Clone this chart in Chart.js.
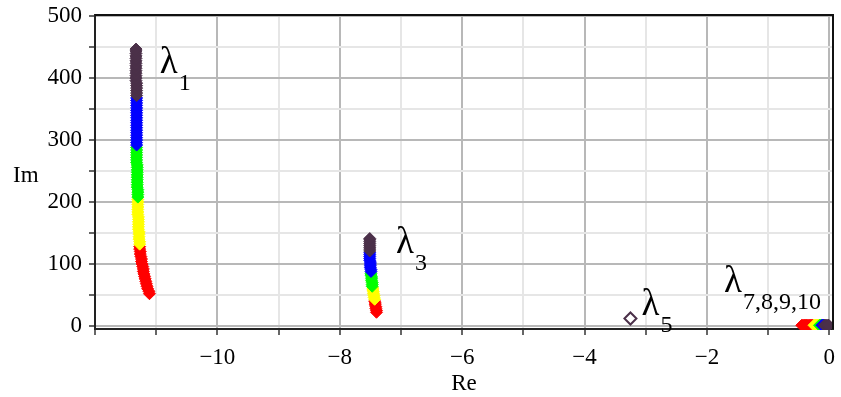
<!DOCTYPE html>
<html lang="en">
<head>
<meta charset="UTF-8">
<title>Eigenvalues Re / Im</title>
<script src="https://cdn.jsdelivr.net/npm/chart.js"></script>
<style>
  html, body { margin: 0; padding: 0; background: #fff; }
</style>
</head>
<body>
<canvas id="grafica" width="841" height="397"></canvas>

<script>
// Re / Im of the eigenvalues, one pair of arrays per colour
// each line: lambda_1 branch, lambda_3 branch, lambda_7..10 branch
const redRe = [-11.11, -11.12, -11.14, -11.15, -11.16, -11.17, -11.18, -11.19, -11.20, -11.21,
               -11.21, -11.22, -11.23, -11.24, -11.24, -11.25, -11.26, -11.26, -11.27, -11.27,
               -7.40, -7.40, -7.41, -7.41, -7.42, -7.42, -7.43,
               -0.45, -0.43, -0.41, -0.39, -0.37, -0.35, -0.33, -0.31, -0.29, -0.27];
const redIm = [52, 56, 60, 64, 68, 72, 76, 80, 84, 88,
               92, 96, 100, 104, 108, 112, 116, 120, 124, 128,
               22, 25, 28, 31, 34, 37, 40,
               1, 1, 1, 1, 1, 1, 1, 1, 1, 1];

const yellowRe = [-11.27, -11.27, -11.28, -11.28, -11.28, -11.28, -11.29, -11.29, -11.29, -11.29,
                  -11.29, -11.29, -11.30, -11.30, -11.30, -11.30, -11.30, -11.30, -11.30,
                  -7.43, -7.44, -7.44, -7.45, -7.45, -7.46, -7.46,
                  -0.25, -0.23, -0.21, -0.19, -0.17];
const yellowIm = [132, 136, 140, 144, 148, 152, 156, 160, 164, 168,
                  172, 176, 180, 184, 188, 192, 196, 200, 204,
                  43, 46, 49, 52, 55, 58, 61,
                  1, 1, 1, 1, 1];

const greenRe = [-11.30, -11.30, -11.30, -11.30, -11.31, -11.31, -11.31, -11.31, -11.31, -11.31,
                 -11.31, -11.31, -11.31, -11.31, -11.32, -11.32, -11.32, -11.32, -11.32, -11.32, -11.32,
                 -7.47, -7.47, -7.47, -7.48, -7.48, -7.48, -7.49, -7.49,
                 -0.16, -0.15, -0.14, -0.13];
const greenIm = [208, 212, 216, 220, 224, 228, 232, 236, 240, 244,
                 248, 252, 256, 260, 264, 268, 272, 276, 280, 284, 288,
                 64, 67, 70, 73, 76, 79, 82, 85,
                 1, 1, 1, 1];

const blueRe = [-11.32, -11.32, -11.32, -11.32, -11.32, -11.32, -11.32, -11.32, -11.32, -11.32,
                -11.32, -11.32, -11.32, -11.32, -11.32, -11.32, -11.32, -11.32, -11.32, -11.32,
                -7.49, -7.49, -7.50, -7.50, -7.50, -7.50, -7.51, -7.51, -7.51, -7.51, -7.51,
                -0.12, -0.11, -0.10, -0.09];
const blueIm = [292, 296, 300, 304, 308, 312, 316, 320, 324, 328,
                332, 336, 340, 344, 348, 352, 356, 360, 364, 368,
                88, 91, 94, 97, 100, 103, 106, 109, 112, 115, 118,
                1, 1, 1, 1];

const purpleRe = [-11.32, -11.32, -11.32, -11.32, -11.32, -11.32, -11.33, -11.33, -11.33, -11.33,
                  -11.33, -11.33, -11.33, -11.33, -11.33, -11.33, -11.33, -11.33, -11.33, -11.33,
                  -7.51, -7.51, -7.51, -7.51, -7.51, -7.51, -7.51, -7.51,
                  -0.08, -0.06, -0.04, -0.02, -0.01];
const purpleIm = [372, 376, 380, 384, 388, 392, 396, 400, 404, 408,
                  412, 416, 420, 424, 428, 432, 436, 440, 444, 447,
                  121, 124, 127, 130, 133, 136, 139, 141,
                  1, 1, 1, 1, 1];

// lambda_5 stays in one place for all colours
const l5Re = [-3.25];
const l5Im = [12];

// eigenvalue labels
const labelSub = ['1', '3', '5', '7,8,9,10'];
const labelRe = [-10.94, -7.08, -3.07, -1.72];
const labelIm = [408, 118, 17, 55];

const toPoints = (re, im) => re.map((v, i) => ({ x: v, y: im[i] }));

function serie(re, im, color, order) {
    return {
        data: toPoints(re, im),
        showLine: false,
        pointStyle: 'rectRot',
        pointRadius: 6,
        pointBorderWidth: 1,
        pointBackgroundColor: color,
        pointBorderColor: color,
        order: order,
        clip: 1
    };
}

const fuente = '"Liberation Serif", "Times New Roman", serif';

const minus = v => (v < 0 ? '\u2212' + Math.abs(v) : String(v));

const decor = {
    id: 'decor',
    afterDraw(chart) {
        const { ctx, chartArea: a, scales: { x, y } } = chart;
        ctx.save();
        // frame, top and right
        ctx.strokeStyle = '#111';
        ctx.lineWidth = 2;
        ctx.beginPath();
        ctx.moveTo(a.left, a.top);
        ctx.lineTo(a.right, a.top);
        ctx.lineTo(a.right, a.bottom);
        ctx.stroke();

        ctx.fillStyle = '#000';
        ctx.textBaseline = 'alphabetic';
        ctx.textAlign = 'left';
        labelRe.forEach((re, i) => {
            const px = x.getPixelForValue(re);
            const py = y.getPixelForValue(labelIm[i]);
            ctx.font = '37px ' + fuente;
            ctx.fillText('\u03bb', px, py);
            const w = ctx.measureText('\u03bb').width;
            ctx.font = '24px ' + fuente;
            ctx.fillText(labelSub[i], px + w + 1, py + 17);
        });

        ctx.font = '23px ' + fuente;
        ctx.fillText('Im', 13, 182);
        ctx.textAlign = 'center';
        ctx.fillText('Re', (a.left + a.right) / 2, 390);
        ctx.restore();
    }
};

new Chart(document.getElementById('grafica'), {
    type: 'scatter',
    data: {
        datasets: [
            serie(redRe, redIm, '#ff0000', 5),
            serie(yellowRe, yellowIm, '#ffff00', 4),
            serie(greenRe, greenIm, '#00ff00', 3),
            serie(blueRe, blueIm, '#0000ff', 2),
            serie(purpleRe, purpleIm, '#4b3049', 1),
            {
                data: toPoints(l5Re, l5Im),
                pointStyle: 'rectRot',
                pointRadius: 6,
                pointBorderWidth: 2,
                pointBackgroundColor: '#ffffff',
                pointBorderColor: '#4b3049',
                order: 0
            },
            {
                data: toPoints(l5Re, l5Im),
                pointStyle: 'rectRot',
                pointRadius: 4.3,
                pointBorderWidth: 1,
                pointBackgroundColor: 'rgba(0,0,0,0)',
                pointBorderColor: '#ff0000',
                order: 0
            }
        ]
    },
    options: {
        responsive: false,
        animation: false,
        layout: { padding: { top: 15, right: 4, left: 0, bottom: 0 } },
        plugins: {
            legend: { display: false },
            tooltip: { enabled: false }
        },
        scales: {
            x: {
                type: 'linear',
                min: -12,
                max: 0.06,
                afterBuildTicks: s => { s.ticks = s.ticks.filter(t => Number.isInteger(t.value)); },
                afterFit: s => {
                    s.height = 68;
                    s.paddingLeft = 0;
                    s.paddingRight = 0;
                },
                ticks: {
                    stepSize: 1,
                    includeBounds: false,
                    autoSkip: false,
                    maxRotation: 0,
                    padding: 9,
                    color: '#000',
                    font: { family: fuente, size: 23 },
                    callback: v => (v % 2 === 0 && v > -12 ? minus(v) : '')
                },
                grid: {
                    color: c => (c.tick && c.tick.value % 2 === 0 ? '#b8b8b8' : '#e6e6e6'),
                    lineWidth: 2,
                    tickColor: '#333',
                    tickLength: 6,
                    tickWidth: 1.5
                },
                border: { color: '#222', width: 2 }
            },
            y: {
                min: -5,
                max: 502,
                afterBuildTicks: s => { s.ticks = s.ticks.filter(t => t.value % 50 === 0); },
                afterFit: s => {
                    s.width = 95;
                    s.paddingTop = 0;
                    s.paddingBottom = 0;
                },
                ticks: {
                    stepSize: 50,
                    includeBounds: false,
                    autoSkip: false,
                    padding: 7,
                    color: '#000',
                    font: { family: fuente, size: 23 },
                    callback: v => (v % 100 === 0 ? minus(v) : '')
                },
                grid: {
                    color: c => (c.tick && c.tick.value % 100 === 0 ? '#b8b8b8' : '#e6e6e6'),
                    lineWidth: 2,
                    tickColor: '#333',
                    tickLength: 6,
                    tickWidth: 1.5
                },
                border: { color: '#222', width: 2 }
            }
        }
    },
    plugins: [decor]
});
</script>
</body>
</html>
